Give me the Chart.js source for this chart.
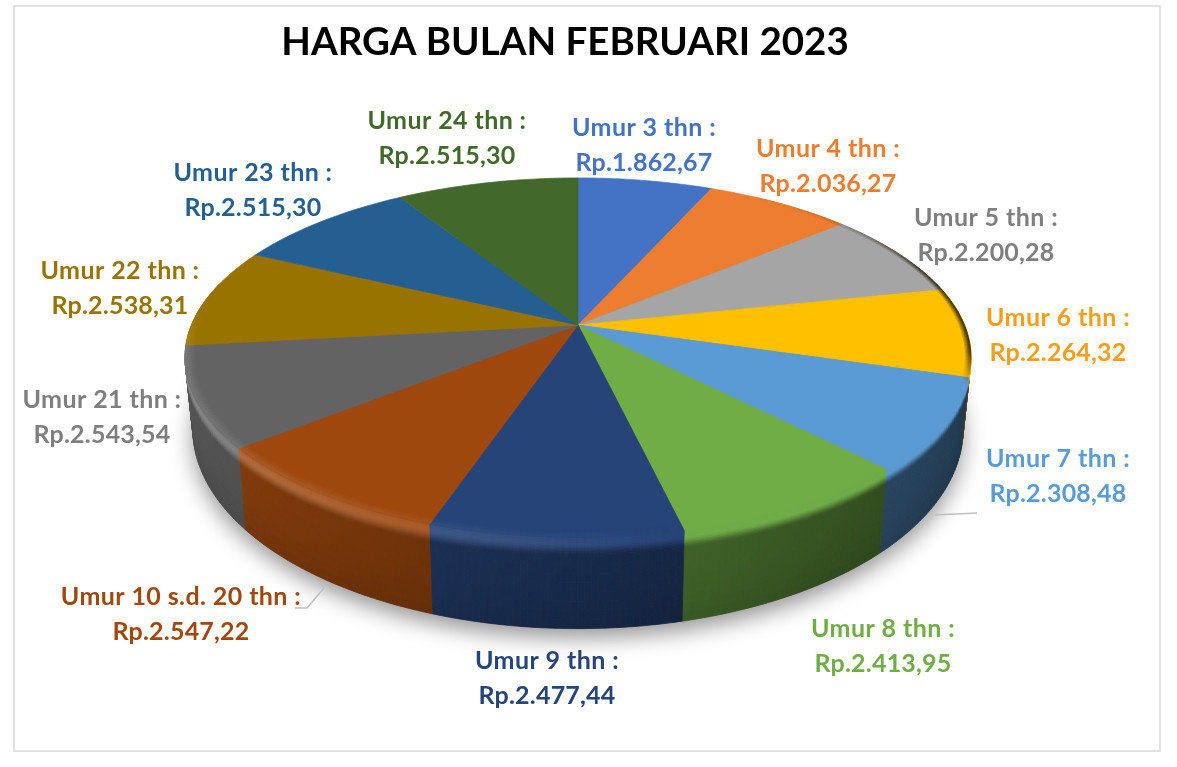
<!DOCTYPE html>
<html>
<head>
<meta charset="utf-8">
<title>Harga Bulan Februari 2023</title>
<script src="https://cdn.jsdelivr.net/npm/chart.js@4"></script>
<style>
  html, body { margin: 0; background: #fff; }
  #wrap { position: relative; width: 1177px; height: 767px; overflow: hidden; }
  #frame { position: absolute; left: 13px; top: 5px; width: 1144px; height: 743px; border: 2px solid #e2e2e2; }
  canvas { position: absolute; left: 0; top: 0; }
</style>
</head>
<body>
<div id="wrap">
  <div id="frame"></div>
  <canvas id="chart" width="1177" height="767"></canvas>
</div>
<script>
// data
const categories = ['Umur 3 thn', 'Umur 4 thn', 'Umur 5 thn', 'Umur 6 thn', 'Umur 7 thn', 'Umur 8 thn',
  'Umur 9 thn', 'Umur 10 s.d. 20 thn', 'Umur 21 thn', 'Umur 22 thn', 'Umur 23 thn', 'Umur 24 thn'];
const prices = [1862.67, 2036.27, 2200.28, 2264.32, 2308.48, 2413.95,
  2477.44, 2547.22, 2543.54, 2538.31, 2515.30, 2515.30];

// colours
const sliceColors = ['#4472C4', '#ED7D31', '#A5A5A5', '#FFC000', '#5B9BD5', '#70AD47',
  '#264478', '#9E480E', '#636363', '#997300', '#255E91', '#43682B'];
const labelColors = ['#4472C4', '#ED7D31', '#7F7F7F', '#F99D1C', '#5B9BD5', '#70AD47',
  '#264478', '#9E480E', '#7F7F7F', '#997300', '#255E91', '#43682B'];

// label centres in page pixels (first line)
const labelX = [644, 828, 986, 1058, 1058, 883, 547, 181, 102, 120, 253, 447];
const labelY = [128, 149, 218, 318, 459, 629, 661, 597, 400, 271, 173, 121];
const leaders = [
  [[295, 608], [307, 608], [324, 588]],
  [[935, 515], [977, 513]]
];

// perspective of the 3D pie
const view = { cx: 578, cy: 325, reachX: 386.5, reachY: 173.7, tilt: 0.181,
  baseY: 393, baseReachY: 193, baseScale: 0.98, bevel: 0.2 };

function rgb(hex) {
  return [1, 3, 5].map(i => parseInt(hex.slice(i, i + 2), 16));
}
function mix(a, b, t) {
  return a.map((c, i) => c + (b[i] - c) * t);
}
function css(c) {
  return `rgb(${c.map(Math.round).join(',')})`;
}
function topPoint(angle, r = 1) {
  const u = r * Math.cos(angle), v = r * Math.sin(angle), d = 1 - view.tilt * v;
  return [view.cx + view.reachX * u / d, view.cy + view.reachY * v / d];
}
function basePoint(angle) {
  const u = Math.cos(angle), v = Math.sin(angle), d = 1 - view.tilt * v;
  return [view.cx + view.baseScale * view.reachX * u / d, view.baseY + view.baseReachY * v / d];
}
function wallPoint(angle, h) {
  const a = topPoint(angle), b = basePoint(angle);
  return [a[0] + (b[0] - a[0]) * h, a[1] + (b[1] - a[1]) * h];
}
function fillPoly(ctx, pts, color) {
  ctx.beginPath();
  pts.forEach((p, i) => i ? ctx.lineTo(p[0], p[1]) : ctx.moveTo(p[0], p[1]));
  ctx.closePath();
  ctx.fillStyle = color;
  ctx.strokeStyle = color;
  ctx.lineWidth = 0.7;
  ctx.fill();
  ctx.stroke();
}

function glowAmount(angle) {
  return 0.2 * Math.max(0, 0.2 - Math.cos(angle));
}

function wallColor(top, angle, h) {
  const u = Math.cos(angle);
  const shade = 0.62 - 0.25 * u;
  const wall = top.map(c => c * shade);
  if (h < view.bevel) {
    const t = h / view.bevel;
    const s = Math.max(0, (t - 0.35) / 0.65);
    const smooth = s * s * (3 - 2 * s);
    const glow = glowAmount(angle) * Math.sin(Math.PI * (0.2 + 0.8 * t));
    return mix(mix(top, wall, smooth), [255, 255, 255], glow);
  }
  // a little darker towards the foot of the wall
  const t = (h - view.bevel) / (1 - view.bevel);
  return wall.map(c => c * (1 - 0.1 * t * t));
}

function drawPie3d(chart) {
  const { ctx } = chart;
  const arcs = chart.getDatasetMeta(0).data;
  const step = Math.PI / 200;

  // soft shadow under the base
  ctx.save();
  ctx.shadowColor = 'rgba(0,0,0,0.42)';
  ctx.shadowBlur = 22;
  ctx.shadowOffsetY = 9;
  ctx.beginPath();
  for (let a = 0; a < Math.PI * 2; a += step) {
    const p = basePoint(a);
    a ? ctx.lineTo(p[0], p[1]) : ctx.moveTo(p[0], p[1]);
  }
  ctx.closePath();
  ctx.fillStyle = '#777';
  ctx.fill();
  ctx.restore();

  // wall segments, back to front
  const segments = [];
  arcs.forEach((arc, i) => {
    const top = rgb(sliceColors[i]);
    const n = Math.max(1, Math.ceil((arc.endAngle - arc.startAngle) / step));
    for (let s = 0; s < n; s++) {
      const a0 = arc.startAngle + (arc.endAngle - arc.startAngle) * s / n;
      const a1 = arc.startAngle + (arc.endAngle - arc.startAngle) * (s + 1) / n;
      if (Math.sin((a0 + a1) / 2) > -0.25) segments.push({ a0, a1, top });
    }
  });
  segments.sort((p, q) => Math.sin((p.a0 + p.a1) / 2) - Math.sin((q.a0 + q.a1) / 2));
  const layers = [];
  for (let j = 0; j < 12; j++) layers.push(view.bevel * j / 12);
  for (let j = 0; j < 8; j++) layers.push(view.bevel + (1 - view.bevel) * j / 8);
  layers.push(1);
  segments.forEach(seg => {
    const mid = (seg.a0 + seg.a1) / 2;
    for (let j = 0; j < layers.length - 1; j++) {
      const h0 = layers[j], h1 = layers[j + 1];
      fillPoly(ctx, [wallPoint(seg.a0, h0), wallPoint(seg.a1, h0), wallPoint(seg.a1, h1), wallPoint(seg.a0, h1)],
        css(wallColor(seg.top, mid, (h0 + h1) / 2)));
    }
  });

  // top surface
  arcs.forEach((arc, i) => {
    const pts = [[view.cx, view.cy]];
    const n = Math.max(2, Math.ceil((arc.endAngle - arc.startAngle) / step));
    for (let s = 0; s <= n; s++) {
      pts.push(topPoint(arc.startAngle + (arc.endAngle - arc.startAngle) * s / n));
    }
    fillPoly(ctx, pts, sliceColors[i]);
  });

  // rim shading on the top surface: light on the left, dark on the right
  arcs.forEach((arc, i) => {
    const top = rgb(sliceColors[i]);
    const n = Math.max(2, Math.ceil((arc.endAngle - arc.startAngle) / step));
    for (let s = 0; s < n; s++) {
      const a0 = arc.startAngle + (arc.endAngle - arc.startAngle) * s / n;
      const a1 = arc.startAngle + (arc.endAngle - arc.startAngle) * (s + 1) / n;
      const mid = (a0 + a1) / 2, u = Math.cos(mid), v = Math.sin(mid);
      const light = glowAmount(mid) * Math.sin(Math.PI * 0.2) * Math.min(1, Math.max(0, v + 0.1) * 4);
      // the dark edge only shows where no wall hangs below it
      const dark = Math.max(0, u - 0.45) * Math.min(1, Math.max(0, v + 0.85) * 2) * Math.min(1, Math.max(0, (0.32 - v) * 6));
      if (light > 0) {
        for (let r = 0; r < 5; r++) {
          const r0 = 0.975 + r * 0.005, r1 = r0 + 0.005;
          const c = mix(top, [255, 255, 255], light * (r + 0.5) / 5);
          fillPoly(ctx, [topPoint(a0, r0), topPoint(a1, r0), topPoint(a1, r1), topPoint(a0, r1)], css(c));
        }
      }
      if (dark > 0) {
        for (let r = 0; r < 4; r++) {
          const r0 = 0.986 + r * 0.0035, r1 = r0 + 0.0035;
          const c = mix(top, [30, 25, 10], Math.min(0.85, 1.5 * dark * (r + 1) / 4));
          fillPoly(ctx, [topPoint(a0, r0), topPoint(a1, r0), topPoint(a1, r1), topPoint(a0, r1)], css(c));
        }
      }
    }
  });
}

function formatRp(value) {
  const [whole, frac] = value.toFixed(2).split('.');
  return 'Rp.' + whole.replace(/\B(?=(\d{3})+$)/g, '.') + ',' + frac;
}

const pie3dPlugin = {
  id: 'pie3d',
  // the arcs keep their geometry, but are painted in perspective here
  beforeDatasetDraw(chart) {
    drawPie3d(chart);
    return false;
  },
  afterDraw(chart) {
    const { ctx } = chart;
    ctx.save();
    ctx.strokeStyle = '#bfbfbf';
    ctx.lineWidth = 1.5;
    leaders.forEach(line => {
      ctx.beginPath();
      line.forEach((p, i) => i ? ctx.lineTo(p[0], p[1]) : ctx.moveTo(p[0], p[1]));
      ctx.stroke();
    });
    ctx.font = 'bold 25px Lato';
    ctx.textAlign = 'center';
    ctx.textBaseline = 'middle';
    categories.forEach((name, i) => {
      ctx.fillStyle = labelColors[i];
      ctx.letterSpacing = '0.4px';
      ctx.fillText(name + ' :', labelX[i], labelY[i]);
      ctx.letterSpacing = '0.2px';
      ctx.fillText(formatRp(prices[i]), labelX[i], labelY[i] + 34.5);
    });
    ctx.restore();
  }
};

new Chart(document.getElementById('chart'), {
  type: 'pie',
  data: {
    labels: categories,
    datasets: [{ data: prices, backgroundColor: sliceColors, borderWidth: 0 }]
  },
  options: {
    responsive: false,
    animation: false,
    layout: { padding: { left: 100, right: 147, top: 10, bottom: 180 } },
    plugins: {
      legend: { display: false },
      tooltip: { enabled: false },
      title: {
        display: true,
        text: 'HARGA BULAN FEBRUARI 2023',
        color: '#000',
        font: { family: 'Lato', size: 38.5, weight: 'bold' },
        padding: { top: 9, bottom: 10 }
      }
    }
  },
  plugins: [pie3dPlugin]
});
</script>
</body>
</html>
